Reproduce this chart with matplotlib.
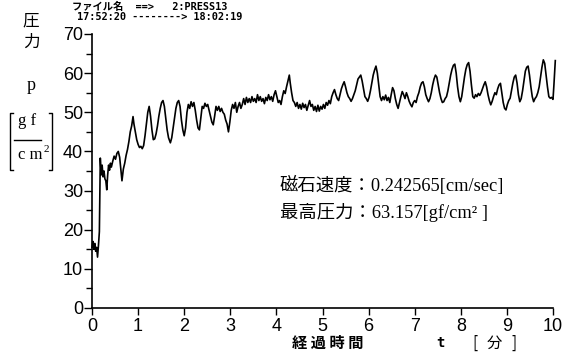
import matplotlib
matplotlib.use("Agg")
import matplotlib.pyplot as plt
from matplotlib.lines import Line2D
from matplotlib.ticker import MultipleLocator

# ---- data ----
t_min = [0.00, 0.02, 0.04, 0.06, 0.08, 0.10, 0.12, 0.14, 0.16, 0.18, 0.20, 0.22, 0.24, 0.26, 0.28, 0.30,
         0.32, 0.34, 0.36, 0.38, 0.40, 0.42, 0.45, 0.48, 0.51, 0.54, 0.57, 0.60, 0.63, 0.65, 0.68, 0.71,
         0.74, 0.77, 0.80, 0.83, 0.86, 0.89, 0.91, 0.94, 0.97, 1.00, 1.03, 1.06, 1.09, 1.12, 1.15, 1.18,
         1.21, 1.24, 1.27, 1.30, 1.33, 1.36, 1.39, 1.42, 1.45, 1.48, 1.51, 1.54, 1.57, 1.60, 1.63, 1.66,
         1.70, 1.73, 1.76, 1.79, 1.82, 1.85, 1.88, 1.91, 1.94, 1.97, 2.00, 2.03, 2.06, 2.09, 2.12, 2.15,
         2.18, 2.21, 2.24, 2.27, 2.30, 2.33, 2.36, 2.39, 2.42, 2.45, 2.48, 2.51, 2.54, 2.57, 2.60, 2.63,
         2.66, 2.69, 2.72, 2.75, 2.78, 2.81, 2.84, 2.87, 2.90, 2.93, 2.96, 2.99, 3.02, 3.05, 3.08, 3.11,
         3.14, 3.17, 3.20, 3.23, 3.26, 3.29, 3.32, 3.35, 3.38, 3.41, 3.44, 3.47, 3.50, 3.53, 3.56, 3.59,
         3.62, 3.65, 3.68, 3.71, 3.74, 3.77, 3.80, 3.83, 3.86, 3.89, 3.92, 3.95, 3.98, 4.01, 4.04, 4.07,
         4.10, 4.13, 4.16, 4.19, 4.22, 4.25, 4.28, 4.30, 4.33, 4.36, 4.39, 4.42, 4.45, 4.48, 4.51, 4.54,
         4.57, 4.60, 4.63, 4.66, 4.69, 4.72, 4.75, 4.78, 4.81, 4.84, 4.87, 4.90, 4.93, 4.96, 4.99, 5.02,
         5.05, 5.08, 5.11, 5.14, 5.17, 5.20, 5.23, 5.26, 5.29, 5.32, 5.35, 5.38, 5.41, 5.44, 5.47, 5.50,
         5.53, 5.56, 5.59, 5.62, 5.65, 5.68, 5.71, 5.74, 5.77, 5.80, 5.83, 5.86, 5.89, 5.92, 5.95, 5.98,
         6.01, 6.04, 6.07, 6.10, 6.13, 6.16, 6.19, 6.22, 6.25, 6.28, 6.31, 6.34, 6.37, 6.40, 6.43, 6.46,
         6.49, 6.52, 6.55, 6.58, 6.61, 6.64, 6.67, 6.70, 6.73, 6.76, 6.79, 6.82, 6.85, 6.88, 6.91, 6.94,
         6.97, 7.00, 7.03, 7.06, 7.09, 7.12, 7.15, 7.18, 7.21, 7.24, 7.27, 7.30, 7.33, 7.36, 7.39, 7.42,
         7.45, 7.48, 7.51, 7.54, 7.57, 7.60, 7.63, 7.66, 7.69, 7.72, 7.75, 7.78, 7.81, 7.84, 7.87, 7.90,
         7.93, 7.96, 7.99, 8.02, 8.05, 8.08, 8.11, 8.14, 8.17, 8.20, 8.23, 8.26, 8.29, 8.32, 8.35, 8.38,
         8.41, 8.44, 8.47, 8.50, 8.53, 8.56, 8.59, 8.62, 8.65, 8.68, 8.71, 8.74, 8.77, 8.80, 8.83, 8.86,
         8.89, 8.92, 8.95, 8.98, 9.01, 9.04, 9.07, 9.10, 9.13, 9.16, 9.19, 9.22, 9.25, 9.28, 9.31, 9.34,
         9.37, 9.40, 9.43, 9.46, 9.49, 9.52, 9.55, 9.58, 9.61, 9.64, 9.67, 9.70, 9.73, 9.76, 9.79, 9.82,
         9.85, 9.88, 9.91, 9.94, 9.97, 10.00, 10.02, 10.05]

pressure = [15.5, 17.0, 15.0, 16.5, 14.5, 15.5, 13.0, 16.0, 19.5, 38.3, 34.0, 36.5, 33.5, 35.0, 33.0, 32.5,
            30.2, 34.0, 36.5, 35.2, 37.0, 36.0, 37.5, 38.8, 38.0, 39.5, 40.0, 38.5, 35.0, 32.5, 35.5, 37.0,
            39.0, 40.5, 42.5, 45.0, 46.5, 48.9, 47.0, 45.0, 43.0, 41.8, 41.0, 41.3, 40.7, 41.5, 44.0, 47.0,
            50.0, 51.5, 49.0, 45.5, 43.0, 43.2, 44.5, 46.5, 49.0, 51.0, 52.5, 53.0, 51.5, 48.5, 45.5, 43.5,
            42.2, 43.5, 46.0, 48.5, 51.0, 52.5, 53.0, 51.5, 48.0, 45.5, 44.0, 46.0, 50.0, 52.0, 51.0, 52.7,
            51.5, 52.5, 50.5, 48.0, 46.0, 45.5, 48.5, 51.5, 51.0, 52.3, 51.5, 52.0, 50.5, 49.0, 47.5, 46.8,
            49.0, 51.5, 50.5, 51.5, 50.2, 51.0, 50.0, 49.5, 48.0, 47.0, 45.0, 47.5, 50.5, 52.0, 51.0, 52.5,
            50.0, 51.5, 52.5, 51.0, 52.0, 53.5, 52.0, 53.8, 52.5, 53.5, 52.5, 54.0, 52.8, 53.5, 52.5, 54.5,
            53.0, 54.0, 52.8, 53.5, 52.2, 53.8, 53.0, 54.5, 53.2, 54.0, 52.8, 54.5, 55.5, 54.0, 52.5, 53.0,
            52.0, 54.0, 55.5, 54.8, 56.5, 58.0, 59.5, 57.5, 55.0, 53.0, 52.5, 51.5, 52.5, 51.0, 52.0, 50.8,
            52.3, 51.2, 52.0, 50.5, 51.8, 53.0, 51.5, 52.0, 50.5, 51.5, 50.2, 51.8, 50.3, 51.5, 50.8, 52.0,
            51.0, 52.5, 51.8, 53.0, 52.2, 54.0, 55.0, 55.8, 54.5, 53.5, 53.0, 54.5, 56.0, 57.0, 57.8, 56.5,
            55.0, 54.0, 53.5, 52.8, 53.5, 54.5, 55.5, 57.0, 58.5, 59.0, 59.5, 58.0, 56.0, 54.0, 53.5, 52.8,
            53.8, 55.5, 57.5, 59.5, 60.8, 61.8, 60.0, 57.0, 54.0, 53.0, 54.0, 53.2, 54.4, 53.0, 53.8, 52.5,
            54.5, 56.3, 55.5, 53.5, 52.0, 51.0, 52.5, 54.0, 55.3, 54.5, 53.5, 55.0, 54.0, 52.8, 52.0, 51.4,
            52.5, 53.0, 52.5, 54.0, 55.0, 56.5, 57.5, 57.8, 56.5, 54.5, 53.5, 52.7, 53.5, 55.0, 57.0, 58.5,
            59.5, 59.0, 57.0, 55.0, 53.5, 52.5, 52.7, 53.5, 54.0, 55.5, 57.5, 59.5, 61.0, 62.0, 62.3, 60.0,
            56.5, 54.0, 52.7, 54.0, 56.5, 59.0, 61.0, 62.2, 62.7, 60.5, 57.0, 54.0, 53.6, 54.5, 54.0, 54.8,
            54.3, 55.0, 56.0, 57.0, 57.8, 56.5, 54.5, 53.0, 51.9, 52.8, 54.0, 55.0, 54.5, 56.0, 57.0, 57.4,
            55.0, 52.5, 51.0, 50.6, 52.0, 53.0, 53.6, 55.5, 57.5, 59.0, 59.5, 57.5, 54.5, 52.7, 53.5, 55.5,
            58.0, 60.5, 61.5, 61.8, 59.5, 56.5, 54.0, 52.7, 53.5, 54.0, 55.0, 56.5, 59.0, 61.5, 63.4, 62.5,
            59.5, 56.5, 54.0, 53.6, 53.8, 53.3, 57.0, 63.2]

x_ticks = [0, 1, 2, 3, 4, 5, 6, 7, 8, 9, 10]
y_ticks = [0, 10, 20, 30, 40, 50, 60, 70]

header_1 = "ファイル名  ==>   2:PRESS13"
header_2 = "17:52:20 --------> 18:02:19"
note_1 = "磁石速度：0.242565[cm/sec]"
note_2 = "最高圧力：63.157[gf/cm² ]"

W, H = 563, 360
fig = plt.figure(figsize=(W / 100, H / 100), dpi=100)
ax = fig.add_axes([92 / W, 1 - 308 / H, (553 - 92) / W, (308 - 34) / H])

ax.plot(t_min, pressure, color="black", lw=1.2, clip_on=False)
ax.set_xlim(0, 10)
ax.set_ylim(0, 70)
ax.set_xticks(x_ticks)
ax.set_yticks(y_ticks)
ax.yaxis.set_minor_locator(MultipleLocator(5))
for s in ("top", "right"):
    ax.spines[s].set_visible(False)
for s in ("left", "bottom"):
    ax.spines[s].set_linewidth(1.2)

tick_font = dict(family="Liberation Sans", size=13)
ax.set_xticklabels([str(v) for v in x_ticks], fontdict=tick_font)
ax.set_yticklabels([str(v) for v in y_ticks], fontdict=tick_font)
ax.tick_params(axis="y", which="major", direction="out", length=5.5, width=1.0, pad=1)
ax.tick_params(axis="y", which="minor", direction="out", length=4.5, width=1.0)
ax.tick_params(axis="x", which="major", direction="out", length=5, width=1.0, pad=2)

def fx(px):
    return px / W

def fy(py):
    return 1 - py / H

cjk = ["Noto Sans CJK JP", "DejaVu Sans"]
serif_cjk = ["Liberation Serif", "Noto Sans CJK JP"]
mono_cjk = ["DejaVu Sans Mono", "Noto Sans CJK JP"]

# header
fig.text(fx(72), fy(7), header_1, family=mono_cjk, fontsize=7.4, weight="bold", va="center", ha="left")
fig.text(fx(77), fy(17), header_2, family=mono_cjk, fontsize=7.4, weight="bold", va="center", ha="left")

# y-axis label stacked
fig.text(fx(31), fy(21), "圧", family=cjk, fontsize=12, ha="center", va="center")
fig.text(fx(31), fy(42), "力", family=cjk, fontsize=12, ha="center", va="center")
fig.text(fx(31), fy(85), "p", family=serif_cjk, fontsize=13, ha="center", va="center")
fig.text(fx(27), fy(121), "g f", family=serif_cjk, fontsize=12, ha="center", va="center")
fig.text(fx(30), fy(155), "c m", family=serif_cjk, fontsize=12, ha="center", va="center")
fig.text(fx(46), fy(149), "2", family=serif_cjk, fontsize=8, ha="center", va="center")
line_kw = dict(color="black", lw=1.0, transform=fig.transFigure)
fig.add_artist(Line2D([fx(14), fx(41)], [fy(140), fy(140)], **line_kw))
fig.add_artist(Line2D([fx(13), fx(10), fx(10), fx(13)], [fy(113), fy(113), fy(170), fy(170)], **line_kw))
fig.add_artist(Line2D([fx(49), fx(52), fx(52), fx(49)], [fy(113), fy(113), fy(170), fy(170)], **line_kw))

# annotations
fig.text(fx(280), fy(185), note_1, family=serif_cjk, fontsize=13.2, ha="left", va="center")
fig.text(fx(280), fy(212), note_2, family=serif_cjk, fontsize=13.2, ha="left", va="center")

# x-axis label
fig.text(fx(292), fy(343), "経 過 時 間", family=cjk, fontsize=11, weight="bold", ha="left", va="center")
fig.text(fx(440), fy(343), "t", family=["DejaVu Sans Mono"], fontsize=10, weight="bold", ha="center", va="center")
fig.text(fx(475), fy(343), "[", family=cjk, fontsize=11, ha="center", va="center")
fig.text(fx(494), fy(343), "分", family=cjk, fontsize=11, ha="center", va="center")
fig.text(fx(514), fy(343), "]", family=cjk, fontsize=11, ha="center", va="center")

fig.savefig("out.png", dpi=100)
